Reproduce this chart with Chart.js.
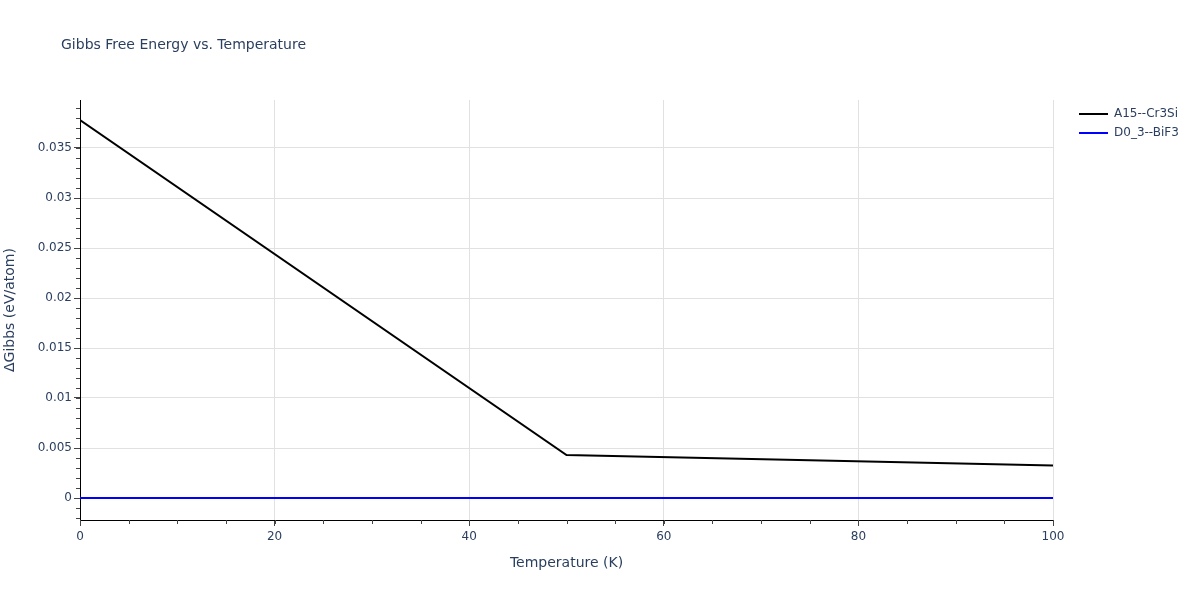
<!DOCTYPE html>
<html>
<head>
<meta charset="utf-8">
<script src="https://cdn.jsdelivr.net/npm/chart.js@4.4.0/dist/chart.umd.min.js"></script>
<style>
  html, body { margin: 0; padding: 0; background: #fff; }
  #wrap { width: 1200px; height: 600px; position: relative; }
</style>
</head>
<body>
<div id="wrap"><canvas id="gibbsChart" width="1200" height="600"></canvas></div>
<script>
// data
const temperatures = [0, 50, 100];
const a15Values = [0.0378, 0.0043, 0.00325];
const d03Temps = [0, 100];
const d03Values = [0, 0];
const seriesNames = ['A15--Cr3Si', 'D0_3--BiF3'];
const seriesColors = ['#000000', '#0000ff'];
const xTickValues = [0, 20, 40, 60, 80, 100];
const yTickValues = [0, 0.005, 0.01, 0.015, 0.02, 0.025, 0.03, 0.035];

const textColor = '#2a3f5f';
const fontFamily = '"DejaVu Sans", verdana, sans-serif';

// minor ticks, title, axis titles and legend drawn by hand (plotly look)
const extrasPlugin = {
  id: 'extras',
  afterDraw(chart) {
    const ctx = chart.ctx;
    const xs = chart.scales.x;
    const ys = chart.scales.y;
    const area = chart.chartArea;
    ctx.save();
    ctx.strokeStyle = '#444';
    ctx.lineWidth = 1;
    ctx.beginPath();
    for (let i = -2; i <= 39; i++) {
      const py = Math.round(ys.getPixelForValue(i / 1000)) + 0.5;
      ctx.moveTo(area.left - 4, py);
      ctx.lineTo(area.left, py);
    }
    for (let t = 0; t <= 100; t += 5) {
      const px = Math.round(xs.getPixelForValue(t)) + 0.5;
      ctx.moveTo(px, area.bottom);
      ctx.lineTo(px, area.bottom + 4);
    }
    ctx.stroke();

    ctx.fillStyle = textColor;
    ctx.font = '14px ' + fontFamily;
    ctx.textBaseline = 'middle';
    ctx.textAlign = 'left';
    ctx.fillText('Gibbs Free Energy vs. Temperature', 61, 45);

    ctx.textAlign = 'center';
    ctx.fillText('Temperature (K)', (area.left + area.right) / 2, 563);
    ctx.save();
    ctx.translate(10, (area.top + area.bottom) / 2);
    ctx.rotate(-Math.PI / 2);
    ctx.fillText('\u0394Gibbs (eV/atom)', 0, 0);
    ctx.restore();

    ctx.font = '12px ' + fontFamily;
    ctx.textAlign = 'left';
    seriesNames.forEach((name, i) => {
      const ly = 114 + i * 19;
      ctx.strokeStyle = seriesColors[i];
      ctx.lineWidth = 2;
      ctx.beginPath();
      ctx.moveTo(1079, ly);
      ctx.lineTo(1108, ly);
      ctx.stroke();
      ctx.fillStyle = textColor;
      ctx.fillText(name, 1114, ly);
    });
    ctx.restore();
  }
};

new Chart(document.getElementById('gibbsChart'), {
  type: 'line',
  data: {
    datasets: [
      {
        label: seriesNames[0],
        data: temperatures.map((t, i) => ({ x: t, y: a15Values[i] })),
        borderColor: seriesColors[0],
        borderWidth: 2,
        pointRadius: 0,
        tension: 0
      },
      {
        label: seriesNames[1],
        data: d03Temps.map((t, i) => ({ x: t, y: d03Values[i] })),
        borderColor: seriesColors[1],
        borderWidth: 2,
        pointRadius: 0,
        tension: 0
      }
    ]
  },
  options: {
    responsive: false,
    animation: false,
    layout: { padding: { left: 0, right: 147, top: 100, bottom: 0 } },
    plugins: {
      legend: { display: false },
      title: { display: false },
      tooltip: { enabled: false }
    },
    scales: {
      x: {
        type: 'linear',
        min: 0,
        max: 100,
        afterBuildTicks: scale => { scale.ticks = xTickValues.map(v => ({ value: v })); },
        afterFit: scale => { scale.height = 80; },
        grid: { color: '#e1e1e1', tickColor: '#444', tickLength: 6, drawTicks: true },
        border: { color: '#000', width: 1 },
        ticks: { color: textColor, font: { size: 12, family: fontFamily }, padding: 4, maxRotation: 0 }
      },
      y: {
        type: 'linear',
        min: -0.0022,
        max: 0.0398,
        afterBuildTicks: scale => { scale.ticks = yTickValues.map(v => ({ value: v })); },
        afterFit: scale => { scale.width = 80; },
        grid: { color: '#e1e1e1', tickColor: '#444', tickLength: 6, drawTicks: true },
        border: { color: '#000', width: 1 },
        ticks: {
          color: textColor,
          font: { size: 12, family: fontFamily },
          padding: 2,
          callback: v => String(Number(v.toFixed(4)))
        }
      }
    }
  },
  plugins: [extrasPlugin]
});
</script>
</body>
</html>
